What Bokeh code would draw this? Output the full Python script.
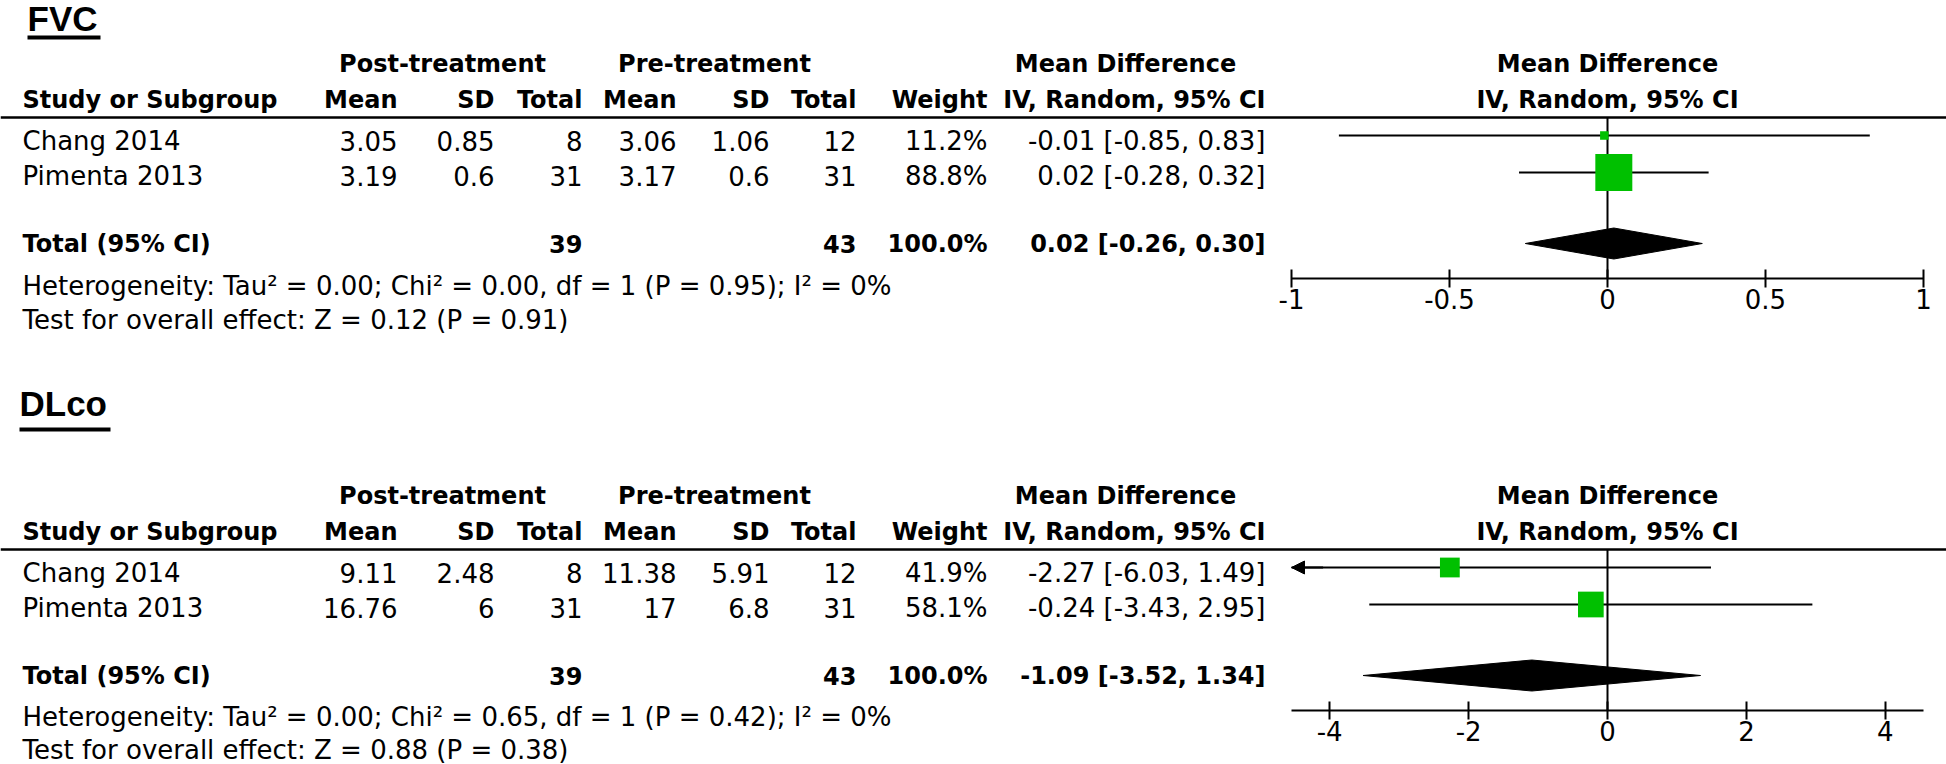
from bokeh.plotting import figure
from bokeh.models import Range1d, Span, LinearAxis, FixedTicker, Arrow, NormalHead
from bokeh.embed import file_html
from bokeh.resources import INLINE
from bokeh.core.properties import value

# ---------------- data ----------------
studies = ["Chang 2014", "Pimenta 2013"]

fvc_post_mean = [3.05, 3.19]
fvc_post_sd = [0.85, 0.6]
fvc_post_n = [8, 31]
fvc_pre_mean = [3.06, 3.17]
fvc_pre_sd = [1.06, 0.6]
fvc_pre_n = [12, 31]
fvc_weight = [11.2, 88.8]
fvc_md = [-0.01, 0.02]
fvc_lo = [-0.85, -0.28]
fvc_hi = [0.83, 0.32]
fvc_total_n = [39, 43]
fvc_total_weight = 100.0
fvc_total_ci = [0.02, -0.26, 0.30]
fvc_het = "Heterogeneity: Tau² = 0.00; Chi² = 0.00, df = 1 (P = 0.95); I² = 0%"
fvc_test = "Test for overall effect: Z = 0.12 (P = 0.91)"
fvc_ticks = [-1, -0.5, 0, 0.5, 1]
fvc_tick_labels = ["-1", "-0.5", "0", "0.5", "1"]
fvc_limit = 1.0

dlco_post_mean = [9.11, 16.76]
dlco_post_sd = [2.48, 6]
dlco_post_n = [8, 31]
dlco_pre_mean = [11.38, 17]
dlco_pre_sd = [5.91, 6.8]
dlco_pre_n = [12, 31]
dlco_weight = [41.9, 58.1]
dlco_md = [-2.27, -0.24]
dlco_lo = [-6.03, -3.43]
dlco_hi = [1.49, 2.95]
dlco_total_n = [39, 43]
dlco_total_weight = 100.0
dlco_total_ci = [-1.09, -3.52, 1.34]
dlco_het = "Heterogeneity: Tau² = 0.00; Chi² = 0.65, df = 1 (P = 0.42); I² = 0%"
dlco_test = "Test for overall effect: Z = 0.88 (P = 0.38)"
dlco_ticks = [-4, -2, 0, 2, 4]
dlco_tick_labels = ["-4", "-2", "0", "2", "4"]
dlco_limit = 4.55

col_headers = ["Mean", "SD", "Total", "Mean", "SD", "Total", "Weight", "IV, Random, 95% CI"]
group_headers = ["Post-treatment", "Pre-treatment", "Mean Difference"]

# ---------------- layout / style ----------------
FONT = "DejaVu Sans"
TITLE_FONT = "Liberation Sans"
REG = "26px"
BOLD = "24px"
GREEN = "#00c000"

W, H = 1946, 764
X_LEFT = 22
COL_RIGHT = [397, 494, 582, 676, 769, 856, 987, 1265]
GRP_CENTER = [442, 714, 1125]
PLOT_X0, PLOT_HALF = 1607, 316

p = figure(width=W, height=H, x_range=Range1d(0, W), y_range=Range1d(H, 0),
           toolbar_location=None, output_backend="svg",
           x_axis_type=None, y_axis_type=None, outline_line_color=None,
           min_border=0, background_fill_color="white", border_fill_color="white")


def fmt(v):
    return f"{v:g}"


def fmt_ci(m, lo, hi):
    return f"{m:.2f} [{lo:.2f}, {hi:.2f}]"


def add_text(xs, ys, texts, align, bold=False, size=REG, font=FONT, **kw):
    p.text(x=xs, y=ys, text=texts, text_font=value(font), text_font_size=size,
           text_align=align, text_baseline="middle", text_color="black",
           text_font_style="bold" if bold else "normal", **kw)


def build_panel(name, title, title_y, ul, ul_y, dy, het_y, test_y,
                post_mean, post_sd, post_n, pre_mean, pre_sd, pre_n,
                weight, md, lo, hi, total_n, total_weight, total_ci,
                het, test, lim, ticks, tick_labels):
    # vertical layout (text centres / mark centres, page pixels)
    grp_y = 63.5 + dy
    col_y = 99 + dy
    line_y = 117 + dy
    row_txt = [140.5 + dy, 175.5 + dy]
    row_mark = [135 + dy, 172 + dy]
    tot_txt = 243.5 + dy
    tot_mark = 243 + dy
    axis_y = 278 + dy
    k = PLOT_HALF / lim
    p.extra_x_ranges[name] = Range1d((0 - PLOT_X0) / k, (W - PLOT_X0) / k)

    # ---- title ----
    add_text([ul[0]], [title_y], [title], "left", True, "35px", TITLE_FONT)
    p.segment(x0=[ul[0]], x1=[ul[1]], y0=[ul_y], y1=[ul_y],
              line_color="black", line_width=4)

    # ---- table ----
    add_text(GRP_CENTER, [grp_y] * 3, group_headers, "center", True, BOLD)
    add_text([X_LEFT], [col_y], ["Study or Subgroup"], "left", True, BOLD)
    add_text(COL_RIGHT, [col_y] * len(COL_RIGHT), col_headers, "right", True, BOLD)
    p.add_layout(Span(location=line_y, dimension="width", line_color="black",
                      line_width=2.5))

    add_text([X_LEFT] * len(studies), row_txt, studies, "left")
    for i in range(len(studies)):
        vals = [fmt(post_mean[i]), fmt(post_sd[i]), str(post_n[i]),
                fmt(pre_mean[i]), fmt(pre_sd[i]), str(pre_n[i]),
                f"{weight[i]:.1f}%", fmt_ci(md[i], lo[i], hi[i])]
        add_text(COL_RIGHT, [row_txt[i]] * len(vals), vals, "right")

    add_text([X_LEFT], [tot_txt], ["Total (95% CI)"], "left", True, BOLD)
    add_text([COL_RIGHT[2], COL_RIGHT[5], COL_RIGHT[6], COL_RIGHT[7]], [tot_txt] * 4,
             [str(total_n[0]), str(total_n[1]), f"{total_weight:.1f}%", fmt_ci(*total_ci)],
             "right", True, BOLD)
    add_text([X_LEFT, X_LEFT], [het_y, test_y], [het, test], "left")

    # ---- forest plot ----
    add_text([0, 0], [grp_y, col_y], ["Mean Difference", "IV, Random, 95% CI"],
             "center", True, BOLD, x_range_name=name)
    p.segment(x0=[0], x1=[0], y0=[line_y], y1=[axis_y], line_color="black",
              line_width=2, x_range_name=name)

    x0s = [max(v, -lim) for v in lo]
    x1s = [min(v, lim) for v in hi]
    p.segment(x0=x0s, x1=x1s, y0=row_mark, y1=row_mark, line_color="black",
              line_width=2, x_range_name=name)
    for i in range(len(studies)):
        for over, edge in ((lo[i] < -lim, -lim), (hi[i] > lim, lim)):
            if over:
                p.add_layout(Arrow(end=NormalHead(size=13, fill_color="black",
                                                  line_color="black", line_width=1),
                                   x_start=edge * 0.9, x_end=edge,
                                   y_start=row_mark[i], y_end=row_mark[i],
                                   line_color="black", line_width=2,
                                   x_range_name=name))
    sizes = [4.4 + 0.367 * w for w in weight]
    p.scatter(x=md, y=row_mark, marker="square", size=sizes, fill_color=GREEN,
              line_color=None, x_range_name=name)

    m, l, h = total_ci
    p.patch(x=[l, m, h, m], y=[tot_mark, tot_mark - 15.5, tot_mark, tot_mark + 15.5],
            fill_color="black", line_color="black", line_width=1, x_range_name=name)

    axis = LinearAxis(x_range_name=name, fixed_location=axis_y,
                      ticker=FixedTicker(ticks=ticks), bounds=(-lim, lim),
                      major_label_overrides={t: s for t, s in zip(ticks, tick_labels)},
                      axis_line_width=2, axis_line_color="black",
                      major_tick_line_width=2, major_tick_line_color="black",
                      major_tick_in=9, major_tick_out=9,
                      minor_tick_line_color=None, major_label_standoff=1,
                      major_label_text_font=FONT, major_label_text_font_size=REG,
                      major_label_text_color="black")
    p.add_layout(axis, "below")


build_panel("fvc", "FVC", 18, (27, 100), 37, 0, 285, 319,
            fvc_post_mean, fvc_post_sd, fvc_post_n, fvc_pre_mean, fvc_pre_sd,
            fvc_pre_n, fvc_weight, fvc_md, fvc_lo, fvc_hi, fvc_total_n,
            fvc_total_weight, fvc_total_ci, fvc_het, fvc_test,
            fvc_limit, fvc_ticks, fvc_tick_labels)
build_panel("dlco", "DLco", 403, (19, 110), 429, 432, 716, 749,
            dlco_post_mean, dlco_post_sd, dlco_post_n, dlco_pre_mean, dlco_pre_sd,
            dlco_pre_n, dlco_weight, dlco_md, dlco_lo, dlco_hi, dlco_total_n,
            dlco_total_weight, dlco_total_ci, dlco_het, dlco_test,
            dlco_limit, dlco_ticks, dlco_tick_labels)

open("out.html", "w").write(file_html(p, INLINE))
